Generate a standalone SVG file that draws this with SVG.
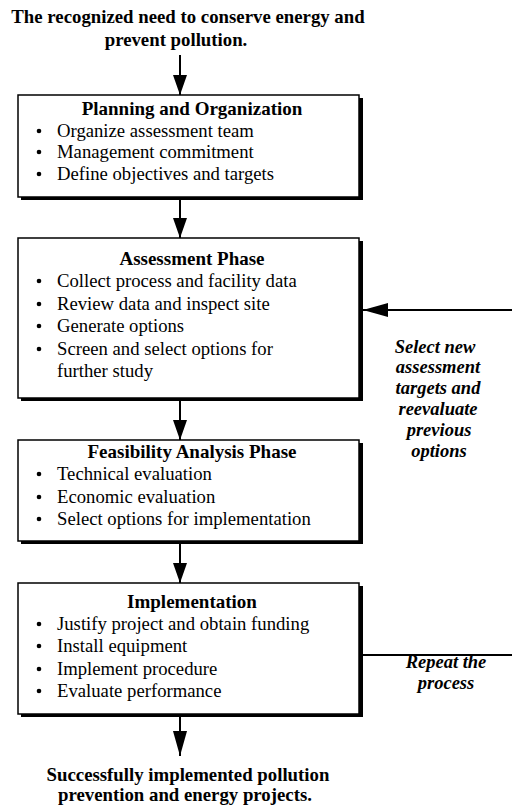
<svg xmlns="http://www.w3.org/2000/svg" width="512" height="807" viewBox="0 0 512 807">
<style>
.t{font-family:"Liberation Serif","Times New Roman",serif;font-size:18.7px;fill:#000}
.h{font-weight:bold;text-anchor:middle;font-size:19px}
.c{text-anchor:middle;font-weight:bold;font-size:18.8px}
.i{font-style:italic;font-weight:bold;text-anchor:middle;font-size:18.5px}
.box{fill:#fff;stroke:#000;stroke-width:1.5}
.sh{fill:#000}
.ln{stroke:#000;stroke-width:2;fill:none}
</style>
<defs>
<marker id="ah" markerWidth="10" markerHeight="7" refX="10" refY="3.5" orient="auto" markerUnits="strokeWidth">
<path d="M0,0 L10,3.5 L0,7 Z" fill="#000"/>
</marker>
<marker id="ahl" markerWidth="12.5" markerHeight="7" refX="12.5" refY="3.5" orient="auto" markerUnits="strokeWidth">
<path d="M0,0 L12.5,3.5 L0,7 Z" fill="#000"/>
</marker>
</defs>
<rect width="512" height="807" fill="#fff"/>

<g id="start">
<text class="t c" x="188" y="23">The recognized need to conserve energy and</text>
<text class="t c" x="176" y="46">prevent pollution.</text>
</g>

<g id="planning">
<rect class="sh" x="21" y="98" width="342" height="102"/>
<rect class="box" x="18" y="95" width="341" height="102"/>
<text class="t h" x="192" y="115">Planning and Organization</text>
<g class="t">
<circle cx="39" cy="131" r="2.3"/><text x="57" y="137">Organize assessment team</text>
<circle cx="39" cy="152" r="2.3"/><text x="57" y="158">Management commitment</text>
<circle cx="39" cy="174" r="2.3"/><text x="57" y="180">Define objectives and targets</text>
</g>
</g>

<g id="assessment">
<rect class="sh" x="21" y="241" width="342" height="160"/>
<rect class="box" x="18" y="238" width="341" height="160"/>
<text class="t h" x="192" y="265">Assessment Phase</text>
<g class="t">
<circle cx="39" cy="281" r="2.3"/><text x="57" y="287">Collect process and facility data</text>
<circle cx="39" cy="304" r="2.3"/><text x="57" y="310">Review data and inspect site</text>
<circle cx="39" cy="326" r="2.3"/><text x="57" y="332">Generate options</text>
<circle cx="39" cy="349" r="2.3"/><text x="57" y="355">Screen and select options for</text>
<text x="57" y="377">further study</text>
</g>
</g>

<g id="feasibility">
<rect class="sh" x="21" y="443" width="342" height="101"/>
<rect class="box" x="18" y="440" width="341" height="101"/>
<text class="t h" x="192" y="458">Feasibility Analysis Phase</text>
<g class="t">
<circle cx="39" cy="474" r="2.3"/><text x="57" y="480">Technical evaluation</text>
<circle cx="39" cy="497" r="2.3"/><text x="57" y="503">Economic evaluation</text>
<circle cx="39" cy="519" r="2.3"/><text x="57" y="525">Select options for implementation</text>
</g>
</g>

<g id="implementation">
<rect class="sh" x="21" y="586" width="342" height="131"/>
<rect class="box" x="18" y="583" width="341" height="131"/>
<text class="t h" x="192" y="608">Implementation</text>
<g class="t">
<circle cx="39" cy="624" r="2.3"/><text x="57" y="630">Justify project and obtain funding</text>
<circle cx="39" cy="646" r="2.3"/><text x="57" y="652">Install equipment</text>
<circle cx="39" cy="669" r="2.3"/><text x="57" y="675">Implement procedure</text>
<circle cx="39" cy="691" r="2.3"/><text x="57" y="697">Evaluate performance</text>
</g>
</g>

<g id="end">
<text class="t c" x="188" y="781">Successfully implemented pollution</text>
<text class="t c" x="185" y="801">prevention and energy projects.</text>
</g>

<g id="feedback-labels">
<text class="t i" x="435" y="353">Select new</text>
<text class="t i" x="438" y="373">assessment</text>
<text class="t i" x="438" y="394">targets and</text>
<text class="t i" x="438" y="415">reevaluate</text>
<text class="t i" x="439" y="436">previous</text>
<text class="t i" x="439" y="457">options</text>
<text class="t i" x="446" y="668">Repeat the</text>
<text class="t i" x="446" y="689">process</text>
</g>

<g id="connectors">
<line class="ln" x1="180" y1="55" x2="180" y2="95" marker-end="url(#ah)"/>
<line class="ln" x1="180" y1="200" x2="180" y2="238" marker-end="url(#ah)"/>
<line class="ln" x1="180" y1="401" x2="180" y2="440" marker-end="url(#ah)"/>
<line class="ln" x1="180" y1="544" x2="180" y2="583" marker-end="url(#ah)"/>
<line class="ln" x1="180" y1="717" x2="180" y2="756" marker-end="url(#ahl)"/>
<line class="ln" x1="512" y1="310" x2="363" y2="310" marker-end="url(#ahl)"/>
<line class="ln" x1="363" y1="655" x2="512" y2="655"/>
</g>
</svg>
